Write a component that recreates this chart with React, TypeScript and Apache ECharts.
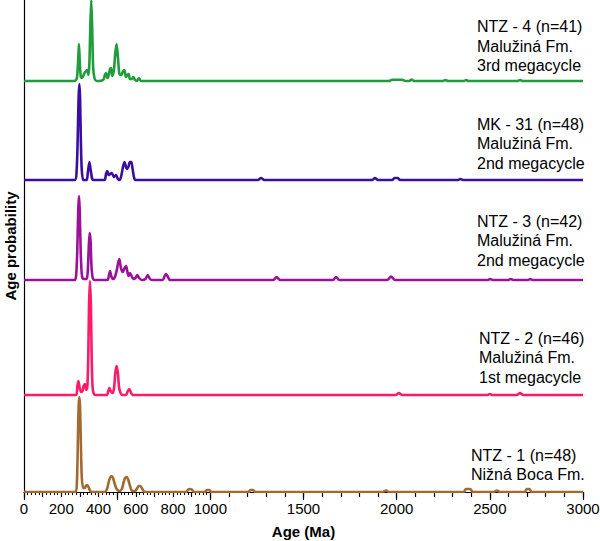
import React, { useEffect, useRef } from "react";
import * as echarts from "echarts";

// Age axis tick labels shown
const tickLabels = [0, 200, 400, 600, 800, 1000, 1500, 2000, 2500, 3000];

const sampleNames = [
  "NTZ - 4 (n=41)\nMalužiná Fm.\n3rd megacycle",
  "MK - 31 (n=48)\nMalužiná Fm.\n2nd megacycle",
  "NTZ - 3 (n=42)\nMalužiná Fm.\n2nd megacycle",
  "NTZ - 2 (n=46)\nMalužiná Fm.\n1st megacycle",
  "NTZ - 1 (n=48)\nNižná Boca Fm.",
];

const colors = ["#1e9d3a", "#3a0ea0", "#9a1299", "#fd1a69", "#a26a2e"];

// vertical stacking offsets (probability units)
const offsets = [411, 312, 212, 97, 0];

// [age (Ma), relative probability]
const ntz4: number[][] = [
  [0, 0], [272, 0], [284, 3], [291, 22], [295, 37], [299, 20], [305, 4], [312, 3], [322, 7], [333, 10], [340, 11],
  [346, 6], [351, 18], [356, 55], [361, 81], [366, 52], [371, 14], [378, 3], [390, 0], [425, 1], [434, 6], [440, 8],
  [447, 3], [453, 5], [462, 12], [467, 13], [474, 5], [483, 12], [490, 28], [497, 37], [504, 24], [512, 7], [522, 6],
  [532, 10], [539, 11], [547, 4], [555, 6], [562, 7], [568, 2], [578, 2], [587, 4], [596, 1], [606, 0], [617, 3],
  [628, 0], [1960, 0], [1975, 1.3], [2030, 1.3], [2048, 0], [2068, 0], [2080, 1.5], [2094, 0], [2250, 0],
  [2262, 1], [2276, 0], [2360, 0], [2372, 1], [2386, 0], [2650, 0], [2662, 1], [2676, 0], [3000, 0],
];

const mk31: number[][] = [
  [0, 0], [272, 0], [282, 8], [288, 40], [293, 82], [297, 96], [301, 82], [305, 40], [310, 10], [318, 0], [336, 0],
  [343, 8], [351, 18], [358, 10], [366, 1], [375, 0], [432, 0], [440, 6], [447, 9], [455, 5], [462, 6], [471, 7],
  [483, 3], [494, 5], [504, 1], [514, 0], [522, 4], [530, 12], [539, 18], [546, 14], [551, 11], [560, 13], [568, 18],
  [576, 18], [582, 12], [590, 3], [598, 0], [1255, 0], [1272, 2], [1290, 0], [1868, 0], [1884, 2], [1900, 0],
  [1975, 0], [1990, 2], [2005, 2], [2018, 0], [2330, 0], [2342, 1], [2355, 0], [3000, 0],
];

const ntz3: number[][] = [
  [0, 0], [272, 0], [280, 5], [286, 30], [291, 70], [295, 84], [299, 70], [304, 30], [310, 6], [318, 1], [336, 1],
  [342, 8], [347, 30], [352, 47], [357, 40], [362, 14], [369, 2], [378, 0], [448, 0], [456, 5], [462, 9], [468, 4],
  [478, 1], [488, 3], [498, 10], [505, 17], [512, 21], [520, 12], [530, 8], [540, 12], [548, 14], [555, 8], [561, 4],
  [569, 7], [577, 4], [587, 1], [598, 2], [608, 5], [618, 2], [632, 0], [652, 1], [664, 5], [676, 1], [688, 0],
  [745, 0], [755, 4], [762, 6], [770, 4], [784, 0], [1338, 0], [1356, 3], [1374, 0], [1658, 0], [1675, 3],
  [1692, 0], [1950, 0], [1970, 3.5], [1990, 0], [2490, 0], [2502, 1], [2515, 0], [2600, 0], [2612, 1], [2625, 0],
  [2705, 0], [2716, 1], [2728, 0], [3000, 0],
];

const ntz2: number[][] = [
  [0, 0], [280, 0], [286, 8], [292, 14], [298, 8], [306, 3], [314, 4], [320, 9], [327, 11], [334, 5], [340, 8],
  [345, 40], [349, 90], [354, 114], [359, 90], [363, 40], [368, 8], [375, 1], [385, 0], [445, 0], [452, 4], [458, 7],
  [465, 4], [476, 2], [484, 8], [490, 22], [497, 29], [504, 22], [510, 8], [518, 2], [530, 0], [548, 0], [557, 4],
  [565, 6], [573, 3], [582, 0], [1995, 0], [2012, 2], [2030, 0], [2488, 0], [2500, 1], [2512, 0], [2645, 0],
  [2662, 2], [2680, 0], [3000, 0],
];

const ntz1: number[][] = [
  [0, 0], [276, 0], [284, 10], [289, 50], [293, 85], [297, 95], [301, 85], [305, 50], [310, 15], [317, 4], [325, 4],
  [332, 6], [340, 7], [348, 4], [356, 1], [365, 0], [435, 0], [447, 4], [456, 11], [464, 15], [470, 16], [478, 14],
  [487, 8], [497, 3], [512, 1], [525, 3], [534, 9], [542, 14], [551, 15], [560, 12], [569, 6], [580, 1], [596, 1],
  [608, 4], [616, 6], [625, 6], [635, 3], [648, 0], [870, 0], [882, 2.5], [891, 3], [900, 2.5], [912, 0],
  [970, 0], [982, 2], [994, 2], [1005, 0], [1205, 0], [1215, 2], [1230, 2], [1240, 0], [1925, 0], [1943, 1.5],
  [1960, 0], [2360, 0], [2372, 3], [2395, 3], [2408, 0], [2520, 0], [2537, 1.5], [2555, 0], [2688, 0],
  [2698, 3], [2712, 3], [2725, 0], [3000, 0],
];

const densities = [ntz4, mk31, ntz3, ntz2, ntz1];

export default function App() {
  const ref = useRef<HTMLDivElement>(null);

  useEffect(() => {
    document.body.style.margin = "0";
    const chart = echarts.init(ref.current!, null, { renderer: "svg" });
    const font = "'Liberation Sans', Arial, sans-serif";
    const gridLeft = 24;
    const gridRight = 17;
    const plotWidth = 600 - gridLeft - gridRight;

    const series = densities.map((d, i) => ({
      type: "line",
      name: sampleNames[i],
      xAxisIndex: 0,
      yAxisIndex: 0,
      data: d.map(([a, p]) => [a, p + offsets[i]]),
      showSymbol: false,
      symbol: "none",
      smooth: 0.25,
      lineStyle: { color: colors[i], width: 2.6 },
      itemStyle: { color: colors[i] },
      z: 3 + i,
    }));

    const labelTops = [17, 114.5, 211.5, 328.5, 445.5];
    const labelLefts = [477, 477, 477, 479, 471];

    chart.setOption({
      animation: false,
      backgroundColor: "#ffffff",
      grid: [
        { left: gridLeft, right: gridRight, top: 0, bottom: 49, containLabel: false, outerBoundsMode: "none" },
        { left: gridLeft, width: plotWidth / 3, top: 0, bottom: 49, containLabel: false, outerBoundsMode: "none" },
      ],
      xAxis: [
        {
          gridIndex: 0,
          type: "value",
          position: "bottom",
          min: 0,
          max: 3000,
          interval: 100,
          axisLine: { show: true, onZero: false, lineStyle: { color: "#000", width: 1.2 } },
          axisTick: { show: true, length: 5, lineStyle: { color: "#000", width: 1.2 } },
          axisLabel: {
            show: true,
            margin: 9,
            color: "#000",
            fontSize: 15,
            fontFamily: font,
            showMinLabel: true,
            showMaxLabel: true,
            formatter: (v: number) => (tickLabels.includes(v) ? String(v) : ""),
          },
          splitLine: { show: false },
          name: "Age (Ma)",
          nameLocation: "middle",
          nameGap: 32,
          nameTextStyle: { color: "#000", fontSize: 15, fontWeight: "bold", fontFamily: font },
        },
        {
          gridIndex: 0,
          type: "value",
          position: "bottom",
          min: 0,
          max: 3000,
          interval: 500,
          axisLine: { show: false, onZero: false },
          axisTick: { show: true, length: 8, lineStyle: { color: "#000", width: 1.2 } },
          axisLabel: { show: false },
          splitLine: { show: false },
        },
        {
          gridIndex: 1,
          type: "value",
          position: "bottom",
          min: 0,
          max: 1000,
          interval: 20,
          axisLine: { show: false, onZero: false },
          axisTick: { show: true, length: 3, lineStyle: { color: "#000", width: 1 } },
          axisLabel: { show: false },
          splitLine: { show: false },
        },
      ],
      yAxis: [
        {
          gridIndex: 0,
          type: "value",
          min: 0,
          max: 492,
          axisLine: { show: true, onZero: false, lineStyle: { color: "#000", width: 1.2 } },
          axisTick: { show: false },
          axisLabel: { show: false },
          splitLine: { show: false },
          name: "Age probability",
          nameLocation: "middle",
          nameGap: 6,
          nameRotate: 90,
          nameTextStyle: { color: "#000", fontSize: 15, fontWeight: "bold", fontFamily: font },
        },
        {
          gridIndex: 1,
          type: "value",
          min: 0,
          max: 1,
          show: false,
        },
      ],
      graphic: sampleNames.map((t, i) => ({
        type: "text",
        left: labelLefts[i],
        top: labelTops[i],
        z: 10,
        style: {
          text: t,
          fill: "#000",
          font: `16px ${font}`,
          lineHeight: 19.5,
        },
      })),
      series,
    });

    return () => chart.dispose();
  }, []);

  return (
    <div
      ref={ref}
      style={{ position: "absolute", left: 0, top: 0, width: 600, height: 541 }}
    />
  );
}
